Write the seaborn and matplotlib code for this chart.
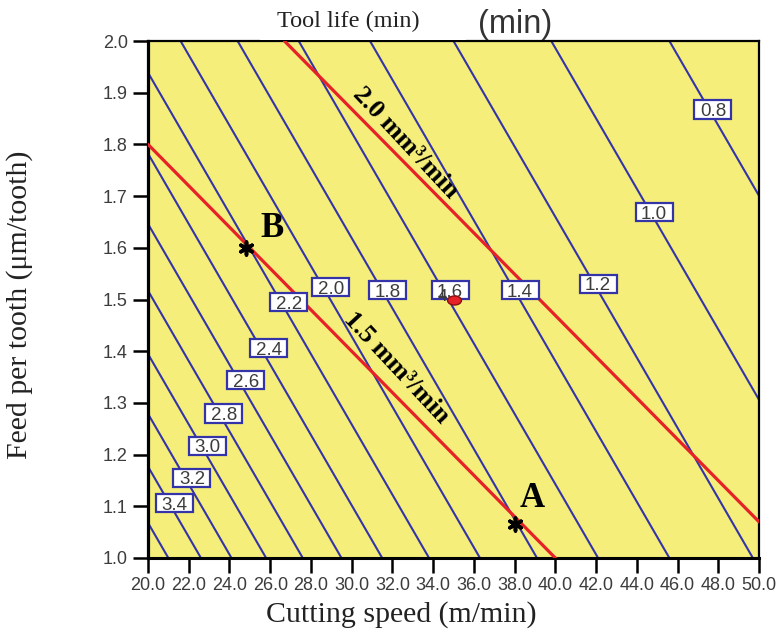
import numpy as np
import pandas as pd
import matplotlib
matplotlib.use("Agg")
import matplotlib.pyplot as plt
import seaborn as sns
from matplotlib import transforms
from matplotlib.patches import Rectangle
from matplotlib.path import Path
from matplotlib.transforms import Affine2D

# ---------------- data ----------------
# tool-life contour levels and where each (straight) contour meets feed 1.0 and feed 2.0
life_levels = [0.8, 1.0, 1.2, 1.4, 1.6, 1.8, 2.0, 2.2, 2.4, 2.6, 2.8, 3.0, 3.2, 3.4, 3.6]
speed_at_feed_1 = [60.3, 54.5, 49.7, 45.6, 42.1, 39.1, 36.3, 33.8, 31.5, 29.5, 27.6, 25.8, 24.1, 22.6, 21.0]
speed_at_feed_2 = [45.6, 39.8, 35.0, 30.9, 27.4, 24.4, 21.6, 19.1, 16.8, 14.8, 12.9, 11.1, 9.4, 7.9, 6.3]

# contour label texts
contour_labels = ["0.8", "1.0", "1.2", "1.4", "1.6", "1.8", "2.0", "2.2", "2.4", "2.6", "2.8", "3.0", "3.2", "3.4"]

# material removal rate constraint lines
mrr_names = ["1.5 mm³/min", "2.0 mm³/min"]
mrr_speed_start = [20.0, 26.7]
mrr_feed_start = [1.80, 2.00]
mrr_speed_end = [40.0, 50.0]
mrr_feed_end = [1.00, 1.07]

# marked points
point_names = ["B", "A"]
point_speed = [24.8, 38.0]
point_feed = [1.60, 1.065]

design_label = ["4"]
design_speed = [35.0]
design_feed = [1.50]

x_ticks = [20.0, 22.0, 24.0, 26.0, 28.0, 30.0, 32.0, 34.0, 36.0, 38.0, 40.0, 42.0, 44.0, 46.0, 48.0, 50.0]
y_ticks = [1.0, 1.1, 1.2, 1.3, 1.4, 1.5, 1.6, 1.7, 1.8, 1.9, 2.0]

# ---------------- layout (label placement) ----------------
label_pos_speed = [47.74, 44.85, 42.10, 38.27, 34.83, 31.78, 28.98, 26.92, 25.94, 24.81, 23.73, 22.90, 22.16, 21.28]
label_pos_feed = [1.867, 1.669, 1.530, 1.518, 1.518, 1.518, 1.524, 1.495, 1.406, 1.344, 1.279, 1.217, 1.155, 1.106]
mrr_text_pos = [(32.18, 1.3675), (32.62, 1.803)]
point_text_pos = [(26.09, 1.621), (38.85, 1.099)]

YELLOW = "#F5EE7A"
BLUE = "#3434A8"
RED = "#E62228"
GRAY = "#3C3C3C"

sns.set_theme(style="ticks")
plt.rcParams["font.family"] = ["Liberation Sans", "DejaVu Sans"]

W, H = 776, 631
fig = plt.figure(figsize=(W / 100, H / 100), dpi=100)
fig.patch.set_facecolor("white")
ax = fig.add_axes([148 / W, 1 - 558 / H, 611 / W, 517 / H])
ax.set_facecolor(YELLOW)

# contour lines
rows = []
for lvl, s1, s2 in zip(life_levels, speed_at_feed_1, speed_at_feed_2):
    rows.append({"level": lvl, "speed": s1, "feed": 1.0})
    rows.append({"level": lvl, "speed": s2, "feed": 2.0})
cdf = pd.DataFrame(rows)
sns.lineplot(data=cdf, x="speed", y="feed", units="level", estimator=None, sort=False,
             color=BLUE, linewidth=1.5, ax=ax, legend=False)

# MRR lines
mrows = []
for name, x0, y0, x1, y1 in zip(mrr_names, mrr_speed_start, mrr_feed_start, mrr_speed_end, mrr_feed_end):
    mrows.append({"mrr": name, "speed": x0, "feed": y0})
    mrows.append({"mrr": name, "speed": x1, "feed": y1})
mdf = pd.DataFrame(mrows)
sns.lineplot(data=mdf, x="speed", y="feed", units="mrr", estimator=None, sort=False,
             color=RED, linewidth=2.3, ax=ax, legend=False, zorder=3)

ax.set_xlim(20, 50)
ax.set_ylim(1.0, 2.0)

# contour label boxes
for txt, sx, fy in zip(contour_labels, label_pos_speed, label_pos_feed):
    tr = fig.dpi_scale_trans + transforms.ScaledTranslation(sx, fy, ax.transData)
    ax.add_patch(Rectangle((-0.185, -0.093), 0.37, 0.186, transform=tr, facecolor="white",
                           edgecolor=BLUE, linewidth=1.6, zorder=4, clip_on=False))
    ax.text(sx, fy, txt, ha="center", va="center_baseline", fontsize=13.5, color=GRAY, zorder=5,
            family=["Liberation Sans"])

# MRR labels
for name, (tx, ty) in zip(mrr_names, mrr_text_pos):
    ax.text(tx, ty, name, rotation=-47, rotation_mode="anchor", ha="center", va="center",
            fontsize=19, fontweight="bold", family=["Liberation Serif"], color="black", zorder=6)

# design point
for lab, sx, fy in zip(design_label, design_speed, design_feed):
    ax.text(sx - 0.52, fy + 0.006, lab, ha="center", va="center", fontsize=12.5, color=GRAY, zorder=6)
    ell = Path.unit_circle().transformed(Affine2D().scale(1.0, 0.65))
    ax.plot([sx], [fy], marker=ell, markersize=10, color=RED, markeredgecolor="#8B1010",
            markeredgewidth=1.0, zorder=7, linestyle="none")

# A / B points
sns.scatterplot(x=point_speed, y=point_feed, marker=(6, 2, 0), s=85, color="black",
                linewidth=2.6, ax=ax, zorder=8, legend=False)
for name, (tx, ty) in zip(point_names, point_text_pos):
    ax.text(tx, ty, name, ha="center", va="baseline", fontsize=25, fontweight="bold",
            family=["Liberation Serif"], color="black", zorder=8)

# axes styling
ax.set_xticks(x_ticks)
ax.set_xticklabels([f"{v:.1f}" for v in x_ticks])
ax.set_yticks(y_ticks)
ax.set_yticklabels([f"{v:.1f}" for v in y_ticks])
ax.tick_params(axis="both", direction="out", length=10.5, width=1.8, color="black",
               labelsize=13, labelcolor=GRAY)
ax.tick_params(axis="x", pad=3)
ax.tick_params(axis="y", pad=4)
for side, lw in (("left", 2.3), ("bottom", 2.2), ("top", 1.6), ("right", 1.6)):
    ax.spines[side].set_visible(True)
    ax.spines[side].set_linewidth(lw)
    ax.spines[side].set_color("black")
ax.set_xlabel("")
ax.set_ylabel("")

# titles / axis labels
fig.patches.append(Rectangle((260 / W, 1 - 40 / H), 206 / W, 40 / H, transform=fig.transFigure,
                             facecolor="white", edgecolor="none", zorder=1))
fig.text(348 / W, 1 - 27 / H, "Tool life (min)", ha="center", va="baseline", fontsize=17.5,
         family=["Liberation Serif"], color="#222222")
fig.text(478 / W, 1 - 33 / H, "(min)", ha="left", va="baseline", fontsize=23.5,
         family=["Liberation Sans"], color="#333333")
fig.text(401 / W, 1 - 622 / H, "Cutting speed (m/min)", ha="center", va="baseline", fontsize=21.5,
         family=["Liberation Serif"], color="#222222")
fig.text(20 / W, 1 - 305 / H, "Feed per tooth (μm/tooth)", ha="center", va="center", rotation=90,
         fontsize=21.5, family=["Liberation Serif"], color="#222222")

fig.savefig("out.png", dpi=100)
